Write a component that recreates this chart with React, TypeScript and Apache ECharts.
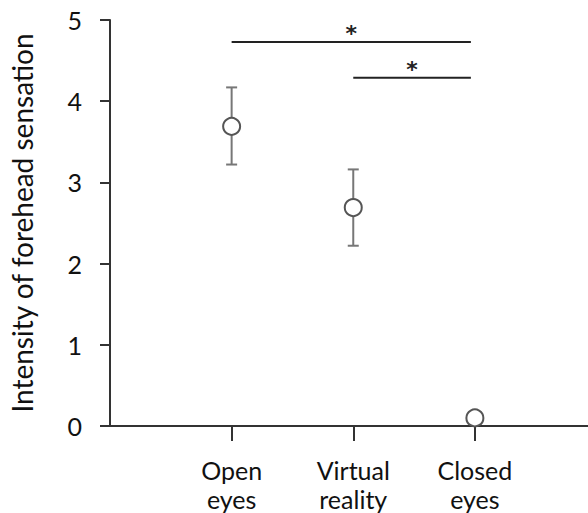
import React, { useEffect, useRef } from "react";
import * as echarts from "echarts";

const categories = ["Open\neyes", "Virtual\nreality", "Closed\neyes"];
const positions = [1, 2, 3];
const means = [3.69, 2.69, 0.1];
const errLow = [3.22, 2.22, 0.1];
const errHigh = [4.17, 3.16, 0.1];
const yTicks = [0, 1, 2, 3, 4, 5];
const sigFrom = [1, 2];
const sigTo = [3, 3];
const sigLevel = [4.73, 4.29];
const sigLabel = ["*", "*"];

const FONT = "Lato";

export default function App() {
  const ref = useRef<HTMLDivElement>(null);
  useEffect(() => {
    if (!ref.current) return;
    const chart = echarts.init(ref.current, undefined, { renderer: "svg" });
    const option: any = {
      animation: false,
      backgroundColor: "#ffffff",
      grid: { left: 110, right: 0, top: 20, bottom: 87, containLabel: false },
      xAxis: {
        type: "value",
        min: 0,
        max: 3.93,
        splitLine: { show: false },
        axisLine: { show: true, lineStyle: { color: "#333", width: 2 } },
        axisTick: {
          show: true,
          customValues: positions,
          length: 15,
          lineStyle: { color: "#333", width: 2 },
        },
        axisLabel: {
          customValues: positions,
          formatter: (v: number) => categories[positions.indexOf(v)] ?? "",
          fontFamily: FONT,
          fontSize: 25,
          lineHeight: 29,
          color: "#111",
          margin: 29,
        },
      },
      yAxis: {
        type: "value",
        min: 0,
        max: 5,
        interval: 1,
        splitLine: { show: false },
        axisLine: { show: true, lineStyle: { color: "#333", width: 2 } },
        axisTick: { show: true, length: 10, lineStyle: { color: "#333", width: 2 } },
        axisLabel: {
          formatter: (v: number) => (yTicks.includes(v) ? String(v) : ""),
          fontFamily: FONT,
          fontSize: 25,
          color: "#111",
          margin: 28,
        },
        name: "Intensity of forehead sensation",
        nameLocation: "middle",
        nameRotate: 90,
        nameGap: 74,
        nameTextStyle: { fontFamily: FONT, fontSize: 28, color: "#111" },
      },
      series: [
        {
          type: "custom",
          z: 1,
          data: positions.map((p, i) => [p, errLow[i], errHigh[i]]),
          renderItem: (params: any, api: any) => {
            const x = api.value(0);
            const top = api.coord([x, api.value(2)]);
            const bot = api.coord([x, api.value(1)]);
            const style = { stroke: "#777", lineWidth: 2 };
            const cap = 5.5;
            return {
              type: "group",
              children: [
                { type: "line", shape: { x1: top[0], y1: top[1], x2: bot[0], y2: bot[1] }, style },
                { type: "line", shape: { x1: top[0] - cap, y1: top[1], x2: top[0] + cap, y2: top[1] }, style },
                { type: "line", shape: { x1: bot[0] - cap, y1: bot[1], x2: bot[0] + cap, y2: bot[1] }, style },
              ],
            };
          },
        },
        {
          type: "scatter",
          z: 3,
          symbol: "circle",
          symbolSize: 17,
          data: positions.map((p, i) => [p, means[i]]),
          itemStyle: { color: "#ffffff", borderColor: "#555", borderWidth: 2, opacity: 1 },
        },
        {
          type: "custom",
          z: 2,
          data: sigFrom.map((f, i) => [f, sigTo[i], sigLevel[i], sigLabel[i]]),
          renderItem: (params: any, api: any) => {
            const a = api.coord([api.value(0), api.value(2)]);
            const b = api.coord([api.value(1), api.value(2)]);
            const label = sigLabel[params.dataIndex];
            return {
              type: "group",
              children: [
                {
                  type: "line",
                  shape: { x1: a[0], y1: a[1], x2: b[0] - 4, y2: b[1] },
                  style: { stroke: "#222", lineWidth: 2 },
                },
                {
                  type: "text",
                  x: (a[0] + b[0] - 4) / 2,
                  y: a[1] + 3,
                  style: {
                    text: label,
                    fontFamily: "DejaVu Sans",
                    fontWeight: "bold",
                    fontSize: 22,
                    fill: "#222",
                    align: "center",
                    verticalAlign: "bottom",
                  },
                },
              ],
            };
          },
        },
      ],
    };
    chart.setOption(option);
    return () => chart.dispose();
  }, []);
  return (
    <div
      ref={ref}
      style={{ position: "fixed", left: 0, top: 0, width: 588, height: 513, background: "#fff" }}
    />
  );
}
